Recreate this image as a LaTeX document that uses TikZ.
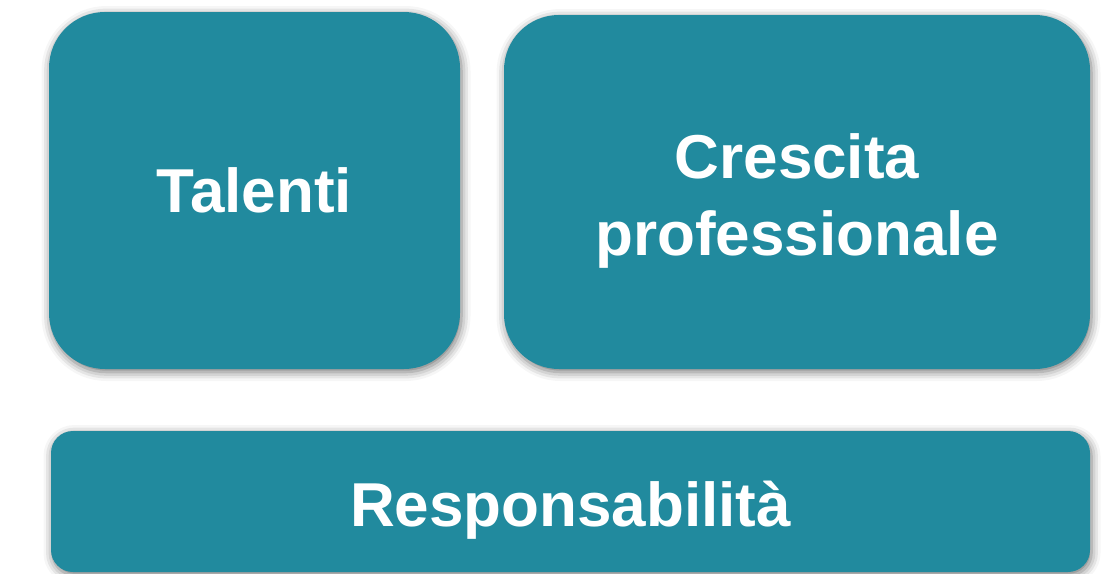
\documentclass[tikz,border=0pt]{standalone}
\usepackage{fontspec}
\setmainfont{Liberation Sans}
\usetikzlibrary{shadows.blur}
\definecolor{teal1}{RGB}{33,138,158}
\begin{document}
\begin{tikzpicture}[x=1pt,y=-1pt,
  card/.style={rectangle, fill=teal1, inner sep=0pt, text=white, align=center,
    font=\bfseries\fontsize{62}{77}\selectfont,
    blur shadow={shadow blur radius=9pt, shadow xshift=1.5pt, shadow yshift=-3pt, shadow opacity=55}}]
\useasboundingbox (0,0) rectangle (1111,573);
\node[card, minimum width=411pt, minimum height=357pt, rounded corners=56pt] (talenti) at (254.5,190.5) {Talenti};
\node[card, minimum width=586pt, minimum height=354pt, rounded corners=55pt, text height=126pt, text depth=0pt] (crescita) at (797,192) {Crescita\\professionale};
\node[card, minimum width=1039pt, minimum height=141pt, rounded corners=22pt, text height=50pt, text depth=0pt] (resp) at (570.5,501.5) {Responsabilità};
\end{tikzpicture}
\end{document}
